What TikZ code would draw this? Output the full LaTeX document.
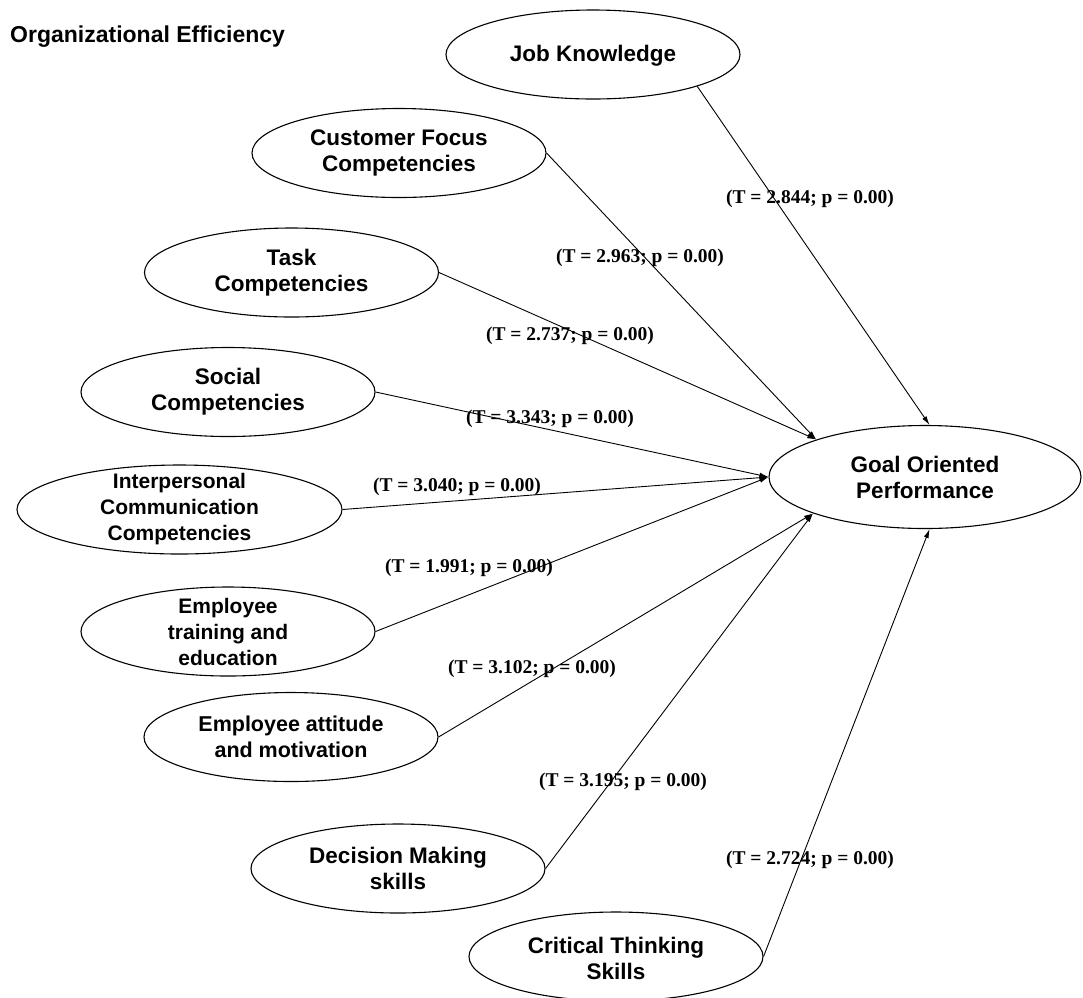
\documentclass[tikz,border=0pt]{standalone}
\usepackage{fontspec}
\setmainfont{Liberation Sans}
\newfontfamily\tnr{Liberation Serif}
\usetikzlibrary{shapes.geometric,arrows.meta}
\begin{document}
\begin{tikzpicture}[x=1pt,y=-1pt,
  oval/.style={ellipse,draw,line width=1.1pt,minimum width=294pt,minimum height=89pt,inner sep=0pt},
  otext/.style={align=center,font=\fontsize{22.5}{26}\selectfont\bfseries,inner sep=0pt},
  otextsmall/.style={otext,font=\fontsize{21}{26}\selectfont\bfseries},
  stat/.style={font=\tnr\fontsize{19.5}{22}\selectfont\bfseries,inner sep=0pt},
  conn/.style={line width=0.9pt,-{Latex[length=9pt,width=5pt]}}]
\useasboundingbox (0,0) rectangle (1083,997);
\fill[white] (0,0) rectangle (1083,997);

\node[otext,anchor=west,font=\fontsize{23}{26}\selectfont\bfseries] (title) at (10,37) {Organizational Efficiency};

% ovals
\node[oval] (jk) at (593,54.5) {};
\node[oval] (cf) at (399,153) {};
\node[oval] (task) at (291.5,272.5) {};
\node[oval] (soc) at (228,392) {};
\node[oval,minimum width=325pt,minimum height=89pt] (ipc) at (179.5,509.5) {};
\node[oval] (tre) at (228,631.5) {};
\node[oval] (att) at (291,737) {};
\node[oval] (dm) at (398,868.5) {};
\node[oval] (ct) at (616,956.5) {};
\node[oval,minimum width=312pt,minimum height=103pt] (gop) at (925,477) {};

% oval texts
\node[otext] (jkt) at (593,56) {Job Knowledge};
\node[otext] (cft) at (cf) {Customer Focus\\Competencies};
\node[otext] (taskt) at (task) {Task\\Competencies};
\node[otext] (soct) at (soc) {Social\\Competencies};
\node[otextsmall] (ipct) at (ipc) {Interpersonal\\Communication\\Competencies};
\node[otextsmall] (tret) at (tre) {Employee\\training and\\education};
\node[otext,font=\fontsize{21.5}{26}\selectfont\bfseries] (attt) at (att) {Employee attitude\\and motivation};
\node[otext] (dmt) at (dm) {Decision Making\\skills};
\node[otext] (ctt) at (616,958) {Critical Thinking\\Skills};
\node[otext] (gopt) at (gop) {Goal Oriented\\Performance};

% connectors
\draw[conn] (jk.-17.8) -- (gop.85);
\draw[conn] (cf.east) -- (gop.161.4);
\draw[conn] (task.east) -- (gop.161.4);
\draw[conn] (soc.east) -- (gop.west);
\draw[conn] (ipc.east) -- (gop.west);
\draw[conn] (tre.east) -- (gop.west);
\draw[conn] (att.east) -- (gop.198.6);
\draw[conn] (dm.east) -- (gop.198.6);
\draw[conn] (ct.east) -- (gop.275);

% statistics
\node[stat] (s1) at (810,199) {(T = 2.844; p = 0.00)};
\node[stat] (s2) at (640,258) {(T = 2.963; p = 0.00)};
\node[stat] (s3) at (570,336) {(T = 2.737; p = 0.00)};
\node[stat] (s4) at (550,419) {(T = 3.343; p = 0.00)};
\node[stat] (s5) at (457,487) {(T = 3.040; p = 0.00)};
\node[stat] (s6) at (469,568) {(T = 1.991; p = 0.00)};
\node[stat] (s7) at (532,669) {(T = 3.102; p = 0.00)};
\node[stat] (s8) at (623,782) {(T = 3.195; p = 0.00)};
\node[stat] (s9) at (810,860) {(T = 2.724; p = 0.00)};
\end{tikzpicture}
\end{document}
